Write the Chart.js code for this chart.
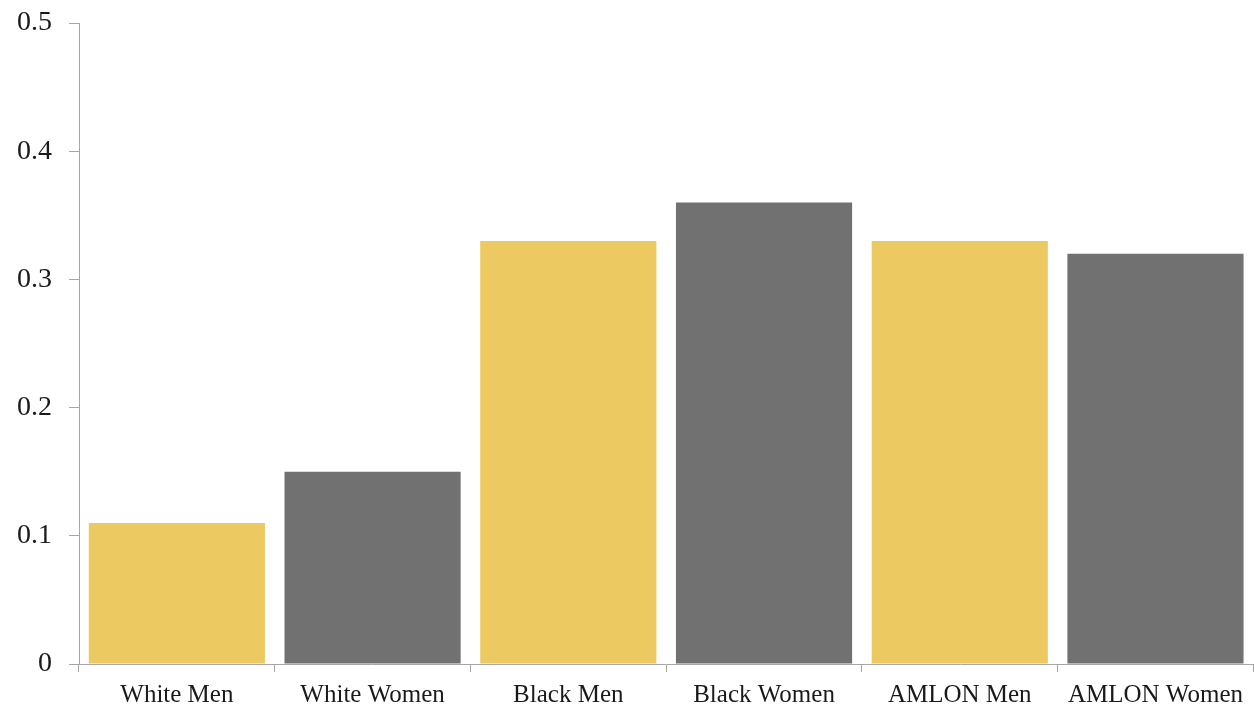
<!DOCTYPE html>
<html>
<head>
<meta charset="utf-8">
<script src="https://cdn.jsdelivr.net/npm/chart.js@4"></script>
<style>
  html, body { margin: 0; padding: 0; background: #fff; overflow: hidden; }
  #wrap { width: 1254px; height: 715px; margin-top: -8px; }
</style>
</head>
<body>
<div id="wrap"><canvas id="gapChart"></canvas></div>
<script>
const categories = ["White Men", "White Women", "Black Men", "Black Women", "AMLON Men", "AMLON Women"];
const values = [0.11, 0.15, 0.33, 0.36, 0.33, 0.32];
const barColors = ["#edc962", "#717171", "#edc962", "#717171", "#edc962", "#717171"];
const yTicks = [0, 0.1, 0.2, 0.3, 0.4, 0.5];

const axisColor = "#a6a6a6";
const textColor = "#1a1a1a";

new Chart(document.getElementById("gapChart"), {
  type: "bar",
  data: {
    labels: categories,
    datasets: [
      {
        data: values,
        backgroundColor: barColors,
        barPercentage: 0.9,
        categoryPercentage: 1,
      },
    ],
  },
  options: {
    responsive: true,
    maintainAspectRatio: false,
    animation: false,
    layout: { padding: { top: 0, right: 0, bottom: -12, left: 0 } },
    plugins: {
      legend: { display: false },
      tooltip: { enabled: false },
    },
    scales: {
      y: {
        min: 0,
        max: 0.5,
        afterBuildTicks: (axis) => {
          axis.ticks = yTicks.map((v) => ({ value: v }));
        },
        ticks: {
          color: textColor,
          font: { family: "Liberation Serif", size: 28, lineHeight: 1 },
          padding: 17,
          callback: (v) => String(v),
        },
        grid: {
          drawOnChartArea: false,
          tickLength: 10,
          color: axisColor,
        },
        border: { color: axisColor, width: 1 },
      },
      x: {
        ticks: {
          color: textColor,
          font: { family: "Liberation Serif", size: 25, lineHeight: 1 },
          padding: 11,
          maxRotation: 0,
        },
        grid: {
          drawOnChartArea: false,
          tickLength: 8,
          color: axisColor,
        },
        border: { color: axisColor, width: 1 },
      },
    },
  },
});
</script>
</body>
</html>
